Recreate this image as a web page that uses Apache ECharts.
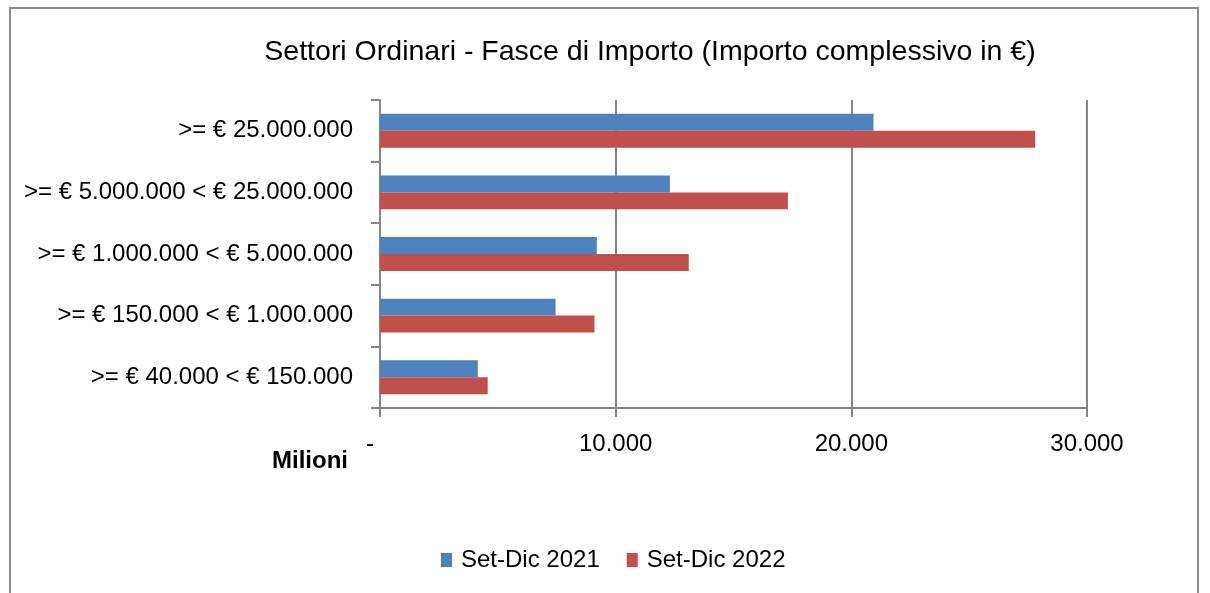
<!DOCTYPE html>
<html>
<head>
<meta charset="utf-8">
<script src="https://cdn.jsdelivr.net/npm/echarts@6/dist/echarts.min.js"></script>
<style>
  html, body { margin: 0; padding: 0; background: #fff; }
  #frame {
    position: absolute; left: 9px; top: 7px; width: 1190px; height: 640px;
    border: 2px solid #8c8c8c; box-sizing: border-box;
  }
  #chart { position: absolute; left: 0; top: 0; width: 1210px; height: 593px; }
</style>
</head>
<body>
<div id="frame"></div>
<div id="chart"></div>
<script>
// fasce di importo, dall'alto verso il basso
const categories = [
  '>= € 25.000.000',
  '>= € 5.000.000 < € 25.000.000',
  '>= € 1.000.000 < € 5.000.000',
  '>= € 150.000 < € 1.000.000',
  '>= € 40.000 < € 150.000'
];
// importo complessivo, milioni di euro
const setDic2021 = [20940, 12300, 9200, 7450, 4150];
const setDic2022 = [27800, 17310, 13100, 9100, 4570];
const seriesNames = ['Set-Dic 2021', 'Set-Dic 2022'];

const font = 'Liberation Sans, Arial, sans-serif';
const axisGray = '#868686';

const chart = echarts.init(document.getElementById('chart'));

const option = {
  animation: false,
  textStyle: { fontFamily: font },
  title: {
    text: 'Settori Ordinari - Fasce di Importo (Importo complessivo in €)',
    left: 645, top: 33, textAlign: 'center',
    textStyle: { fontSize: 28.5, fontWeight: 'normal', color: '#000', fontFamily: font }
  },
  legend: {
    data: seriesNames,
    left: 436, top: 543,
    itemWidth: 11, itemHeight: 14, itemGap: 27,
    icon: 'rect',
    textStyle: { fontSize: 24, color: '#000', fontFamily: font, padding: [0, 0, 0, 4] }
  },
  grid: { left: 380, right: 123, top: 100, bottom: 185, containLabel: false },
  xAxis: {
    type: 'value',
    min: 0, max: 30000, interval: 10000,
    axisLine: { show: true, lineStyle: { color: axisGray, width: 2 } },
    axisTick: { show: true, inside: false, length: 9, lineStyle: { color: axisGray, width: 2 } },
    splitLine: { show: true, lineStyle: { color: axisGray, width: 2 } },
    axisLabel: {
      margin: 24, fontSize: 24, color: '#000', fontFamily: font,
      formatter: function (v) {
        if (v === 0) return '{z|-}';
        return v.toLocaleString('it-IT');
      },
      rich: { z: { fontSize: 24, color: '#000', padding: [0, 20, 0, 0] } }
    }
  },
  yAxis: {
    type: 'category',
    data: categories,
    inverse: true,
    axisLine: { show: true, lineStyle: { color: axisGray, width: 2 } },
    axisTick: { show: true, length: 9, lineStyle: { color: axisGray, width: 2 } },
    axisLabel: { margin: 27, fontSize: 24, color: '#000', fontFamily: font }
  },
  graphic: [{
    type: 'text', left: 272, top: 449,
    style: { text: 'Milioni', fontSize: 24, fontWeight: 'bold', fill: '#000', fontFamily: font }
  }],
  series: [
    {
      name: seriesNames[0], type: 'bar', data: setDic2021,
      barGap: '0%', barCategoryGap: '45%',
      itemStyle: { color: '#4F81BD' }
    },
    {
      name: seriesNames[1], type: 'bar', data: setDic2022,
      barGap: '0%', barCategoryGap: '45%',
      itemStyle: { color: '#C0504D' }
    }
  ]
};

option && chart.setOption(option);
</script>
</body>
</html>
